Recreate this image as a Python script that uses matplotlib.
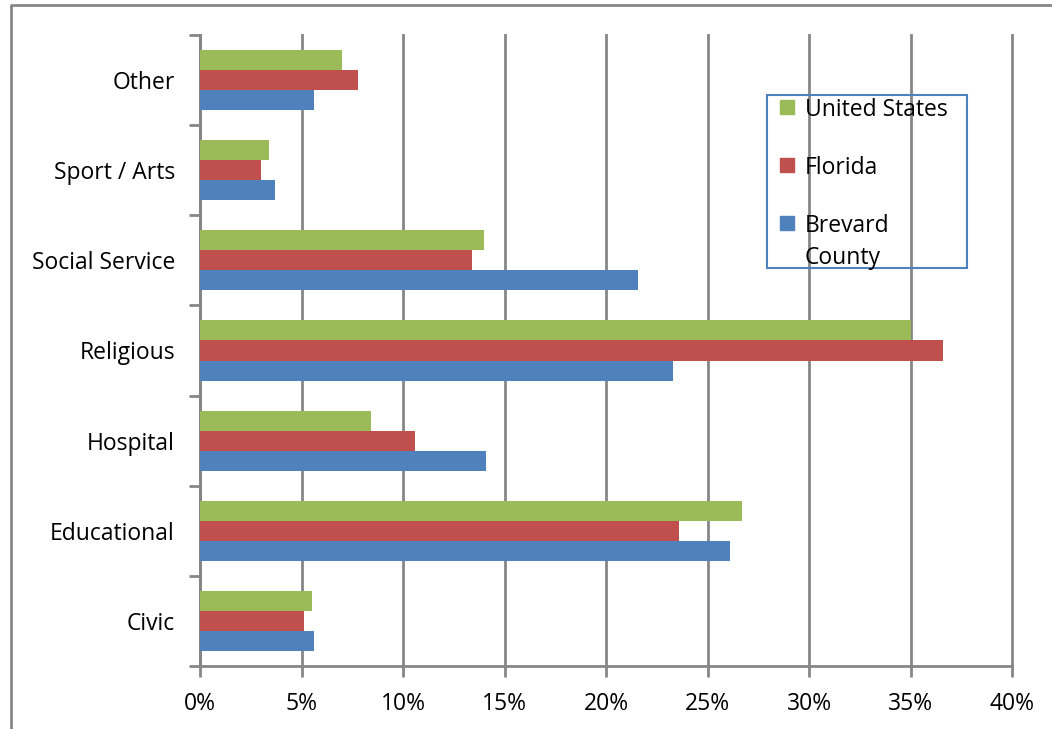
import numpy as np
import matplotlib
matplotlib.use('Agg')
import matplotlib.pyplot as plt
from matplotlib.patches import Rectangle
from matplotlib.lines import Line2D

categories = ['Civic', 'Educational', 'Hospital', 'Religious', 'Social Service', 'Sport / Arts', 'Other']
series = ['United States', 'Florida', 'Brevard\nCounty']
us = [5.5, 26.7, 8.4, 35.0, 14.0, 3.4, 7.0]
florida = [5.1, 23.6, 10.6, 36.6, 13.4, 3.0, 7.8]
brevard = [5.6, 26.1, 14.1, 23.3, 21.6, 3.7, 5.6]
xticks = [0, 5, 10, 15, 20, 25, 30, 35, 40]

colors = ['#9BBB59', '#C0504D', '#4F81BD']
grid_c = '#868686'
fs = 16.5

plt.rcParams['font.family'] = ['Open Sans', 'DejaVu Sans']

W, H = 1052, 729
fig = plt.figure(figsize=(W / 100, H / 100), dpi=100, facecolor='white')
ax = fig.add_axes([200 / W, 1 - 666 / H, (1012 - 200) / W, (666 - 35) / H])

y = np.arange(len(categories))
bh = 0.222
for vals, off, c in zip([us, florida, brevard], [bh, 0, -bh], colors):
    ax.barh(y + off, vals, height=bh, color=c, zorder=3)

ax.set_xlim(0, 40)
ax.set_ylim(-0.5, len(categories) - 0.5)
ax.set_xticks(xticks)
ax.set_xticklabels(['{:d}%'.format(t) for t in xticks], fontsize=fs)
ax.set_yticks(y)
ax.set_yticklabels(categories, fontsize=fs)
ax.set_yticks(np.arange(len(categories) + 1) - 0.5, minor=True)
ax.tick_params(axis='y', which='major', length=0, pad=18)
ax.tick_params(axis='y', which='minor', length=8, width=2, color=grid_c)
ax.tick_params(axis='x', length=8, width=2, color=grid_c, pad=11)
ax.grid(axis='x', color=grid_c, linewidth=2, zorder=0)
for gl in ax.get_xgridlines():
    gl.set_clip_on(False)
for s in ['top', 'right']:
    ax.spines[s].set_visible(False)
for s in ['left', 'bottom']:
    ax.spines[s].set_color(grid_c)
    ax.spines[s].set_linewidth(2)

# legend box
fig.patches.append(Rectangle((767 / W, 1 - 268 / H), 200 / W, 173 / H,
                             transform=fig.transFigure, fill=False,
                             edgecolor='#4F81BD', linewidth=1.5))
ly = [107, 165, 223]
for name, c, yy in zip(series, colors, ly):
    fig.patches.append(Rectangle((780 / W, 1 - (yy + 7) / H), 14 / W, 14 / H,
                                 transform=fig.transFigure, color=c))
    fig.text(805 / W, 1 - (yy - 9) / H, name, fontsize=fs, va='top', ha='left',
             linespacing=1.45)

# outer frame
fig.add_artist(Line2D([11 / W, 11 / W, 1.0], [0.0, 1 - 4.5 / H, 1 - 4.5 / H],
                      transform=fig.transFigure, color=grid_c, linewidth=2))

fig.savefig('out.png', dpi=100, facecolor='white')
